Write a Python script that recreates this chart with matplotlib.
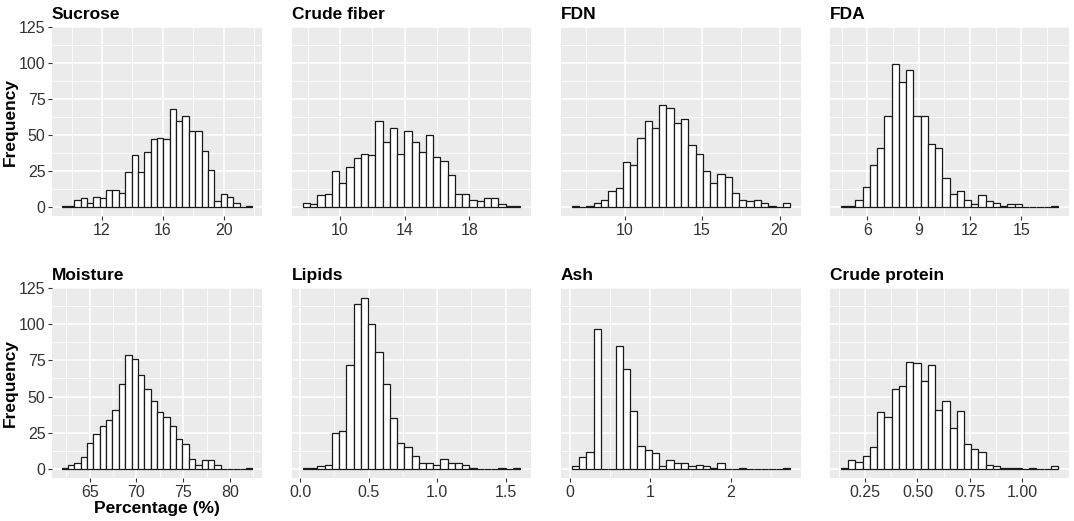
import numpy as np
import matplotlib
matplotlib.use("Agg")
import matplotlib.pyplot as plt
from matplotlib.ticker import FixedLocator

plt.rcParams['font.family'] = ['Liberation Sans', 'DejaVu Sans']

# ---- data (30 bins per panel) ----
titles = ["Sucrose", "Crude fiber", "FDN", "FDA",
          "Moisture", "Lipids", "Ash", "Crude protein"]

bin_lo = [9.34, 7.71, 6.60, 4.46, 61.99, 0.019, 0.029, 0.133]
bin_hi = [21.9, 21.14, 20.68, 17.16, 82.41, 1.606, 2.74, 1.174]

sucrose = [1, 1, 5, 6, 3, 7, 6, 12, 12, 10, 24, 36, 24, 38, 47, 48, 47, 68, 60, 63,
           53, 53, 39, 26, 4, 9, 7, 3, 0, 1]
crude_fiber = [3, 2, 8, 9, 25, 17, 28, 34, 37, 36, 60, 45, 55, 37, 53, 45, 38, 50, 35, 32,
               22, 9, 9, 5, 4, 6, 6, 2, 1, 1]
fdn = [1, 0, 1, 3, 5, 11, 13, 31, 29, 48, 60, 55, 71, 69, 58, 61, 43, 37, 25, 17,
       23, 21, 10, 5, 4, 5, 3, 1, 0, 3]
fda = [1, 1, 5, 14, 29, 41, 63, 99, 87, 95, 63, 63, 44, 41, 20, 9, 11, 5, 2, 8,
       4, 3, 1, 2, 2, 0, 0, 0, 0, 1]
moisture = [1, 3, 4, 8, 18, 24, 30, 34, 41, 59, 79, 76, 65, 55, 47, 39, 36, 30, 21, 17,
            7, 3, 6, 6, 3, 0, 0, 0, 0, 1]
lipids = [1, 1, 2, 3, 25, 26, 72, 114, 118, 100, 81, 59, 35, 18, 15, 9, 4, 4, 3, 7,
          4, 4, 3, 1, 0, 0, 0, 1, 0, 1]
ash = [2, 8, 12, 97, 0, 0, 85, 69, 40, 16, 13, 11, 2, 6, 4, 4, 2, 3, 2, 1,
       4, 0, 0, 1, 0, 0, 0, 0, 0, 1]
crude_protein = [1, 6, 5, 9, 15, 39, 36, 55, 57, 74, 73, 61, 72, 41, 47, 28, 40, 17, 14, 12,
                 3, 2, 1, 1, 1, 0, 1, 0, 0, 2]
counts = [sucrose, crude_fiber, fdn, fda, moisture, lipids, ash, crude_protein]

major_ticks = [[12, 16, 20], [10, 14, 18], [10, 15, 20], [6, 9, 12, 15],
               [65, 70, 75, 80], [0.0, 0.5, 1.0, 1.5], [0, 1, 2], [0.25, 0.50, 0.75, 1.00]]
tick_labels = [["12", "16", "20"], ["10", "14", "18"], ["10", "15", "20"],
               ["6", "9", "12", "15"], ["65", "70", "75", "80"],
               ["0.0", "0.5", "1.0", "1.5"], ["0", "1", "2"],
               ["0.25", "0.50", "0.75", "1.00"]]
y_ticks = [0, 25, 50, 75, 100, 125]

# ---- layout ----
W, H = 1074, 521
fig = plt.figure(figsize=(W / 100, H / 100), dpi=100)
col_x = [(52, 262), (292, 531), (561, 801), (830, 1069)]
row_y = [(27, 216), (288, 478)]

bg = "#EBEBEB"
for i in range(8):
    r, c = divmod(i, 4)
    x0, x1 = col_x[c]
    yt, yb = row_y[r]
    ax = fig.add_axes([x0 / W, 1 - yb / H, (x1 - x0) / W, (yb - yt) / H])
    ax.set_facecolor(bg)
    for s in ax.spines.values():
        s.set_visible(False)

    n = len(counts[i])
    edges = np.linspace(bin_lo[i], bin_hi[i], n + 1)
    width = edges[1] - edges[0]
    ax.bar(edges[:-1], counts[i], width=width, align='edge', color='white',
           edgecolor='#1a1a1a', linewidth=0.9, zorder=3)

    rng = bin_hi[i] - bin_lo[i]
    ax.set_xlim(bin_lo[i] - 0.05 * rng, bin_hi[i] + 0.05 * rng)
    ax.set_ylim(-6.25, 125)

    mt = major_ticks[i]
    step = mt[1] - mt[0]
    minors = np.arange(mt[0] - step / 2, mt[-1] + step, step)
    ax.xaxis.set_major_locator(FixedLocator(mt))
    ax.xaxis.set_minor_locator(FixedLocator(minors))
    ax.set_xticklabels(tick_labels[i])
    ax.yaxis.set_major_locator(FixedLocator(y_ticks))
    ax.yaxis.set_minor_locator(FixedLocator([12.5, 37.5, 62.5, 87.5, 112.5]))

    ax.grid(which='major', color='white', linewidth=1.1, zorder=0)
    ax.grid(which='minor', color='white', linewidth=0.55, zorder=0)
    ax.set_axisbelow(True)

    ax.tick_params(axis='both', which='major', length=2.7, width=0.8,
                   color='#333333', labelsize=11.5, labelcolor='#333333', pad=2)
    ax.tick_params(axis='both', which='minor', length=0)
    if c != 0:
        ax.tick_params(axis='y', which='major', length=0, labelleft=False)
    else:
        ax.set_ylabel("Frequency", fontsize=12.5, fontweight='bold')
        ax.yaxis.set_label_coords((18 - x0) / (x1 - x0), 0.5)
    if i == 4:
        ax.set_xlabel("Percentage (%)", fontsize=12.5, fontweight='bold', labelpad=1)

    ax.set_title(titles[i], loc='left', fontsize=12.5, fontweight='bold', pad=6)

fig.savefig("out.png", dpi=100)
